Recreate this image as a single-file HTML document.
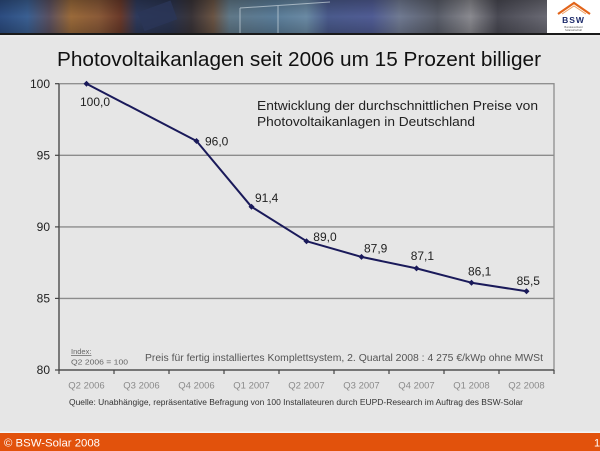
<!DOCTYPE html>
<html>
<head>
<meta charset="utf-8">
<style>
html,body{margin:0;padding:0;background:#e6e6e6;}
svg{display:block;font-family:"Liberation Sans",sans-serif;}
</style>
</head>
<body>
<svg width="600" height="451" viewBox="0 0 600 451" xmlns="http://www.w3.org/2000/svg">
<defs>
<linearGradient id="ph" x1="0" y1="0" x2="1" y2="0">
<stop offset="0" stop-color="#2c4c80"/>
<stop offset="0.05" stop-color="#3a5f92"/>
<stop offset="0.09" stop-color="#5a5060"/>
<stop offset="0.13" stop-color="#9a6a3a"/>
<stop offset="0.18" stop-color="#8a5a38"/>
<stop offset="0.22" stop-color="#6a3a2a"/>
<stop offset="0.25" stop-color="#2e3a5c"/>
<stop offset="0.31" stop-color="#2a3450"/>
<stop offset="0.35" stop-color="#3a3438"/>
<stop offset="0.39" stop-color="#6a5444"/>
<stop offset="0.42" stop-color="#607888"/>
<stop offset="0.50" stop-color="#5a7c98"/>
<stop offset="0.56" stop-color="#6a8aa4"/>
<stop offset="0.60" stop-color="#4a5a8c"/>
<stop offset="0.68" stop-color="#505c94"/>
<stop offset="0.73" stop-color="#707a92"/>
<stop offset="0.80" stop-color="#5a5e6a"/>
<stop offset="0.86" stop-color="#8a8a90"/>
<stop offset="0.91" stop-color="#4a4a54"/>
<stop offset="1" stop-color="#6a6a74"/>
</linearGradient>
<linearGradient id="shade" x1="0" y1="0" x2="0" y2="1">
<stop offset="0" stop-color="#000" stop-opacity="0.25"/>
<stop offset="0.5" stop-color="#000" stop-opacity="0"/>
<stop offset="1" stop-color="#000" stop-opacity="0.2"/>
</linearGradient>
</defs>

<rect x="0" y="0" width="600" height="451" fill="#e6e6e6"/>

<rect x="0" y="0" width="547" height="33" fill="url(#ph)"/>
<rect x="0" y="0" width="547" height="33" fill="url(#shade)"/>
<g stroke="#c8d4dc" stroke-width="1" opacity="0.7">
<line x1="240" y1="8" x2="240" y2="33"/>
<line x1="278" y1="5" x2="278" y2="33"/>
<line x1="240" y1="8" x2="330" y2="2"/>
</g>
<rect x="140" y="6" width="35" height="20" fill="#2a3658" opacity="0.8" transform="rotate(-20 157 16)"/>
<rect x="547" y="0" width="53" height="33" fill="#ffffff"/>
<path d="M558 14 L574 3 L590 14" fill="none" stroke="#e2641a" stroke-width="2.2"/>
<path d="M562 14 L574 6 L586 14" fill="none" stroke="#f0a060" stroke-width="1"/>
<text x="573.5" y="23" text-anchor="middle" font-size="8.5" font-weight="bold" fill="#1c2a6a" letter-spacing="1">BSW</text>
<text x="573.5" y="28" text-anchor="middle" font-size="2.6" fill="#555">Bundesverband</text>
<text x="573.5" y="31" text-anchor="middle" font-size="2.6" fill="#555">Solarwirtschaft</text>
<rect x="0" y="33" width="600" height="2.2" fill="#1a1a1a"/>
<rect x="0" y="35.2" width="600" height="1" fill="#ffffff"/>

<text x="57" y="66" font-size="20" fill="#111" textLength="484" lengthAdjust="spacingAndGlyphs">Photovoltaikanlagen seit 2006 um 15 Prozent billiger</text>

<rect x="59" y="83.7" width="495" height="286.3" fill="none" stroke="#8c8c8c" stroke-width="1.3"/>
<g stroke="#8c8c8c" stroke-width="1.4">
<line x1="59" y1="155.3" x2="554" y2="155.3"/>
<line x1="59" y1="226.9" x2="554" y2="226.9"/>
<line x1="59" y1="298.4" x2="554" y2="298.4"/>
</g>
<g stroke="#444" stroke-width="1.2">
<line x1="59" y1="83.7" x2="59" y2="370"/>
<line x1="59" y1="370" x2="554" y2="370"/>
<line x1="55" y1="83.7" x2="59" y2="83.7"/>
<line x1="55" y1="155.3" x2="59" y2="155.3"/>
<line x1="55" y1="226.9" x2="59" y2="226.9"/>
<line x1="55" y1="298.4" x2="59" y2="298.4"/>
<line x1="55" y1="370" x2="59" y2="370"/>
<line x1="59" y1="370" x2="59" y2="374"/>
<line x1="114" y1="370" x2="114" y2="374"/>
<line x1="169" y1="370" x2="169" y2="374"/>
<line x1="224" y1="370" x2="224" y2="374"/>
<line x1="279" y1="370" x2="279" y2="374"/>
<line x1="334" y1="370" x2="334" y2="374"/>
<line x1="389" y1="370" x2="389" y2="374"/>
<line x1="444" y1="370" x2="444" y2="374"/>
<line x1="499" y1="370" x2="499" y2="374"/>
<line x1="554" y1="370" x2="554" y2="374"/>
</g>

<g font-size="12" fill="#222" text-anchor="end">
<text x="50" y="88">100</text>
<text x="50" y="159.5">95</text>
<text x="50" y="231">90</text>
<text x="50" y="302.5">85</text>
<text x="50" y="374">80</text>
</g>

<g font-size="9.5" fill="#8a8a8a" text-anchor="middle">
<text x="86.5" y="388.5">Q2 2006</text>
<text x="141.5" y="388.5">Q3 2006</text>
<text x="196.5" y="388.5">Q4 2006</text>
<text x="251.5" y="388.5">Q1 2007</text>
<text x="306.5" y="388.5">Q2 2007</text>
<text x="361.5" y="388.5">Q3 2007</text>
<text x="416.5" y="388.5">Q4 2007</text>
<text x="471.5" y="388.5">Q1 2008</text>
<text x="526.5" y="388.5">Q2 2008</text>
</g>

<text x="257" y="110" font-size="12.5" fill="#222" textLength="281" lengthAdjust="spacingAndGlyphs">Entwicklung der durchschnittlichen Preise von</text>
<text x="257" y="126" font-size="12.5" fill="#222" textLength="218" lengthAdjust="spacingAndGlyphs">Photovoltaikanlagen in Deutschland</text>

<polyline fill="none" stroke="#1a1a5a" stroke-width="2" stroke-linejoin="round"
points="86.5,83.7 196.5,141 251.5,206.8 306.5,241.2 361.5,256.9 416.5,268.4 471.5,282.7 526.5,291.3"/>
<g fill="#1a1a5a">
<path d="M86.5 80.7 L89.5 83.7 L86.5 86.7 L83.5 83.7Z"/>
<path d="M196.5 138 L199.5 141 L196.5 144 L193.5 141Z"/>
<path d="M251.5 203.8 L254.5 206.8 L251.5 209.8 L248.5 206.8Z"/>
<path d="M306.5 238.2 L309.5 241.2 L306.5 244.2 L303.5 241.2Z"/>
<path d="M361.5 253.9 L364.5 256.9 L361.5 259.9 L358.5 256.9Z"/>
<path d="M416.5 265.4 L419.5 268.4 L416.5 271.4 L413.5 268.4Z"/>
<path d="M471.5 279.7 L474.5 282.7 L471.5 285.7 L468.5 282.7Z"/>
<path d="M526.5 288.3 L529.5 291.3 L526.5 294.3 L523.5 291.3Z"/>
</g>

<g font-size="12" fill="#222">
<text x="80" y="106">100,0</text>
<text x="205" y="145.3">96,0</text>
<text x="255" y="202">91,4</text>
<text x="313.3" y="241">89,0</text>
<text x="364" y="252.7">87,9</text>
<text x="410.7" y="260">87,1</text>
<text x="468" y="275.5">86,1</text>
<text x="516.6" y="285">85,5</text>
</g>

<text x="71" y="354" font-size="7.5" fill="#666" text-decoration="underline">Index:</text>
<text x="71" y="364.5" font-size="7.5" fill="#666" textLength="57" lengthAdjust="spacingAndGlyphs">Q2 2006 = 100</text>
<text x="145" y="361" font-size="10" fill="#555" textLength="398" lengthAdjust="spacingAndGlyphs">Preis für fertig installiertes Komplettsystem, 2. Quartal 2008 : 4 275 €/kWp ohne MWSt</text>
<text x="69" y="405" font-size="8" fill="#333" textLength="454" lengthAdjust="spacingAndGlyphs">Quelle: Unabhängige, repräsentative Befragung von 100 Installateuren durch EUPD-Research im Auftrag des BSW-Solar</text>

<rect x="0" y="431.5" width="600" height="1.5" fill="#f4f4f4"/>
<rect x="0" y="433" width="600" height="18" fill="#e2520c"/>
<text x="4" y="446.5" font-size="11" fill="#ffffff" textLength="96" lengthAdjust="spacingAndGlyphs">© BSW-Solar 2008</text>
<text x="594" y="446.5" font-size="11" fill="#ffffff">1</text>
</svg>
</body>
</html>
